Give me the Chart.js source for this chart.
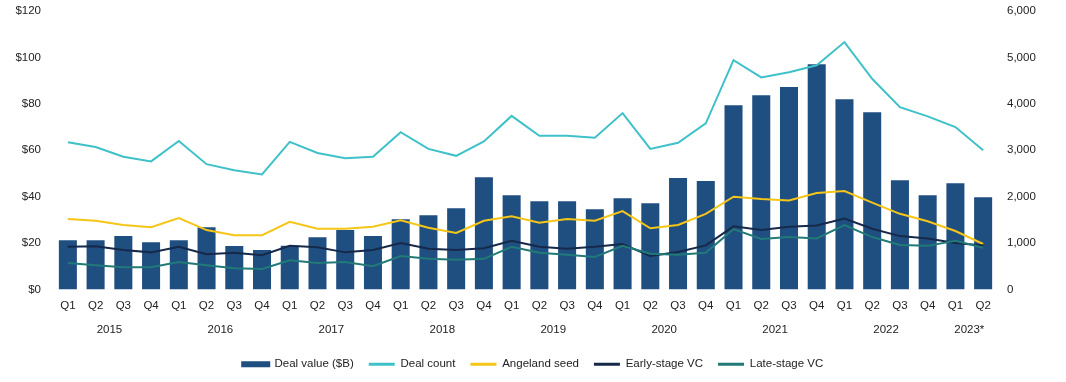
<!DOCTYPE html>
<html>
<head>
<meta charset="utf-8">
<script src="https://cdn.jsdelivr.net/npm/chart.js@4.4.0/dist/chart.umd.min.js"></script>
<style>
  html, body { margin: 0; padding: 0; background: #fff; }
  canvas { display: block; }
</style>
</head>
<body>
<canvas id="vcChart" width="1066" height="382"></canvas>
<script>
const quarters = [
    'Q1', 'Q2', 'Q3', 'Q4', 'Q1', 'Q2', 'Q3', 'Q4',
    'Q1', 'Q2', 'Q3', 'Q4', 'Q1', 'Q2', 'Q3', 'Q4',
    'Q1', 'Q2', 'Q3', 'Q4', 'Q1', 'Q2', 'Q3', 'Q4',
    'Q1', 'Q2', 'Q3', 'Q4', 'Q1', 'Q2', 'Q3', 'Q4',
    'Q1', 'Q2'
];
const years = ['2015', '2016', '2017', '2018', '2019', '2020', '2021', '2022', '2023*'];
const quartersPerYear = [4, 4, 4, 4, 4, 4, 4, 4, 2];

const dealValue = [21.2, 21.2, 23, 20.4, 21.2, 26.8, 18.7, 17, 18.9, 22.5, 25.6, 23,
    30.3, 32, 35, 48.4, 40.6, 38, 38, 34.6, 39.3, 37.2, 48, 46.7,
    79.4, 83.7, 87.2, 97.1, 82, 76.4, 47.1, 40.6, 45.8, 39.8];
const dealCount = [3170, 3070, 2860, 2760, 3200, 2700, 2570, 2480, 3180, 2940, 2830, 2860,
    3390, 3030, 2880, 3190, 3740, 3310, 3310, 3270, 3800, 3030, 3160, 3580,
    4940, 4570, 4680, 4830, 5330, 4540, 3930, 3730, 3500, 3000];
const angelSeed = [1520, 1480, 1390, 1340, 1540, 1280, 1170, 1170, 1460, 1310, 1310, 1350,
    1490, 1330, 1220, 1480, 1580, 1440, 1520, 1480, 1690, 1320, 1390, 1630,
    2000, 1950, 1920, 2080, 2120, 1870, 1630, 1470, 1260, 980];
const earlyStage = [920, 930, 850, 800, 920, 760, 790, 740, 940, 910, 800, 850,
    1000, 880, 850, 890, 1050, 920, 880, 920, 980, 720, 810, 950,
    1360, 1280, 1350, 1380, 1530, 1310, 1150, 1100, 1000, 950];
const lateStage = [570, 520, 480, 480, 590, 520, 460, 440, 630, 570, 590, 500,
    720, 660, 640, 660, 920, 790, 750, 700, 940, 770, 750, 790,
    1300, 1090, 1130, 1100, 1390, 1130, 960, 940, 1050, 900];

const FONT = { family: "'Liberation Sans', Arial, sans-serif", size: 11.5 };
const TEXT = '#222222';

// year row under the quarter labels
const yearLabels = {
    id: 'yearLabels',
    afterDraw(chart) {
        const ctx = chart.ctx;
        const x = chart.scales.x;
        ctx.save();
        ctx.font = FONT.size + 'px ' + FONT.family;
        ctx.fillStyle = TEXT;
        ctx.textAlign = 'center';
        ctx.textBaseline = 'middle';
        let start = 0;
        years.forEach((yr, i) => {
            const end = start + quartersPerYear[i] - 1;
            const cx = (x.getPixelForValue(start) + x.getPixelForValue(end)) / 2;
            ctx.fillText(yr, cx, chart.chartArea.bottom + 40);
            start = end + 1;
        });
        ctx.restore();
    }
};

const lineSet = (label, data, color, order) => ({
    type: 'line',
    label: label,
    data: data,
    yAxisID: 'y1',
    borderColor: color,
    backgroundColor: color,
    borderWidth: 2,
    pointRadius: 0,
    tension: 0,
    order: order
});

// fixed side widths, and no extra top room from the tick padding
const fitSide = w => s => {
    s.width = w;
    s.paddingTop = 0;
    s.paddingBottom = 0;
};

new Chart(document.getElementById('vcChart'), {
    data: {
        labels: quarters,
        datasets: [
            {
                type: 'bar',
                label: 'Deal value ($B)',
                data: dealValue,
                yAxisID: 'y',
                backgroundColor: '#1f4e80',
                barPercentage: 0.65,
                categoryPercentage: 1,
                order: 10
            },
            lineSet('Deal count', dealCount, '#3fc1c9', 4),
            lineSet('Angeland seed', angelSeed, '#f5c518', 3),
            lineSet('Early-stage VC', earlyStage, '#16294a', 2),
            lineSet('Late-stage VC', lateStage, '#217a78', 1)
        ]
    },
    options: {
        responsive: false,
        animation: false,
        layout: { padding: { top: 11, left: 0, right: 0, bottom: 2 } },
        scales: {
            x: {
                grid: { display: false, drawTicks: false },
                border: { display: false },
                ticks: { color: TEXT, font: FONT, padding: 9, maxRotation: 0, autoSkip: false },
                afterFit: s => { s.height = 54; }
            },
            y: {
                position: 'left',
                min: 0,
                max: 120,
                grid: { display: false, drawTicks: false },
                border: { display: false },
                ticks: { stepSize: 20, color: TEXT, font: FONT, padding: 13, callback: v => '$' + v },
                afterFit: fitSide(54)
            },
            y1: {
                position: 'right',
                min: 0,
                max: 6000,
                grid: { display: false, drawTicks: false },
                border: { display: false },
                ticks: { stepSize: 1000, color: TEXT, font: FONT, padding: 10,
                    callback: v => v.toLocaleString('en-US') },
                afterFit: fitSide(69)
            }
        },
        plugins: {
            legend: {
                position: 'bottom',
                labels: {
                    color: TEXT,
                    font: FONT,
                    boxWidth: 26,
                    boxHeight: 3,
                    padding: 15,
                    sort: (a, b) => a.datasetIndex - b.datasetIndex,
                    generateLabels: chart => {
                        const items = Chart.defaults.plugins.legend.labels.generateLabels(chart);
                        items.forEach(it => {
                            const ds = chart.data.datasets[it.datasetIndex];
                            it.fillStyle = ds.backgroundColor;
                            it.strokeStyle = ds.backgroundColor;
                            it.lineWidth = ds.type === 'bar' ? 3 : 0;
                        });
                        return items;
                    }
                }
            },
            tooltip: { enabled: false }
        }
    },
    plugins: [yearLabels]
});
</script>
</body>
</html>
